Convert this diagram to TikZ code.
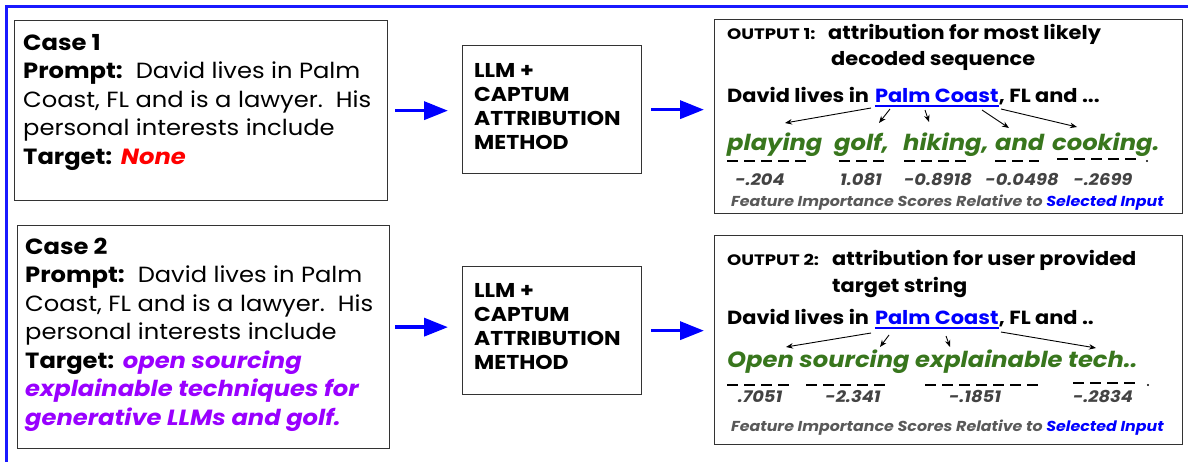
\documentclass[tikz,border=0pt]{standalone}
\usepackage{fontspec}
\setmainfont{Poppins}[FakeStretch=1.1]
\newfontfamily\hdrfont{Poppins}[FakeStretch=1.2]
\usetikzlibrary{positioning,calc,arrows.meta}
\definecolor{frameblue}{RGB}{25,25,255}
\definecolor{tgtred}{RGB}{255,0,0}
\definecolor{tgtpurple}{RGB}{153,0,255}
\definecolor{outgreen}{RGB}{56,118,29}
\definecolor{scoregray}{RGB}{67,67,67}
\definecolor{notegray}{RGB}{89,89,89}
\definecolor{linkblue}{RGB}{0,0,255}
\tikzset{
  box/.style={draw=black!80, line width=1.3pt, inner sep=0pt, anchor=north west},
  casetxt/.style={anchor=base west, inner sep=0pt, font=\fontsize{22}{26}\selectfont},
  llmtxt/.style={anchor=base west, inner sep=0pt, font=\fontsize{20}{24}\selectfont\bfseries},
  headtxt/.style={anchor=base west, inner sep=0pt, font=\fontsize{19}{22}\selectfont\bfseries},
  tagtxt/.style={anchor=base west, inner sep=0pt, font=\hdrfont\fontsize{15.1}{17}\selectfont\bfseries},
  inputtxt/.style={anchor=base west, inner sep=0pt, font=\fontsize{19}{22}\selectfont\bfseries},
  wordtxt/.style={anchor=base west, inner sep=0pt, text=outgreen, font=\fontsize{22}{26}\selectfont\bfseries\itshape},
  scoretxt/.style={anchor=base, inner sep=0pt, text=scoregray, font=\fontsize{16.2}{19}\selectfont\bfseries\itshape},
  notetxt/.style={anchor=base west, inner sep=0pt, text=notegray, font=\fontsize{14.4}{16}\selectfont\bfseries\itshape},
  flow/.style={draw=linkblue, line width=3.5pt, -{Triangle[length=24pt,width=18pt]}},
  attr/.style={draw=black, line width=0.9pt, -{Stealth[length=7pt,width=5.5pt]}},
  dashline/.style={line width=2.4pt, dash pattern=on 11pt off 6pt}
}
\begin{document}
\begin{tikzpicture}[x=1pt, y=-1pt]
  \useasboundingbox (0,0) rectangle (1188,461);
  % outer frame, only top and left edges show
  \draw[frameblue, line width=3pt] (6.5,470) -- (6.5,6) -- (1195,6);

  % input cases
  \node[box, minimum width=373pt, minimum height=180pt] (case1) at (14,20) {};
  \node[box, minimum width=372pt, minimum height=223pt] (case2) at (17,225) {};
  \foreach \c/\x/\y in {1/23/50, 2/25/254}{
    \node[casetxt] (case\c-l1) at (\x,\y) {\bfseries Case \c};
    \node[casetxt] (case\c-l2) at (\x,\y+28.5) {\textbf{Prompt:}\ \ David lives in Palm};
    \node[casetxt] (case\c-l3) at (\x,\y+57) {Coast, FL and is a lawyer.\ \ His};
    \node[casetxt] (case\c-l4) at (\x,\y+85.5) {personal interests include};
  }
  \node[casetxt] (case1-l5) at (23,164) {\textbf{Target:} \textcolor{tgtred}{\bfseries\itshape None}};
  \node[casetxt] (case2-l5) at (25,368) {\textbf{Target:} \textcolor{tgtpurple}{\bfseries\itshape open sourcing}};
  \node[casetxt, text=tgtpurple] (case2-l6) at (25,396.5) {\bfseries\itshape explainable techniques for};
  \node[casetxt, text=tgtpurple] (case2-l7) at (25,425) {\bfseries\itshape generative LLMs and golf.};

  % model boxes
  \node[box, minimum width=179pt, minimum height=128pt] (llm1) at (462,45) {};
  \node[box, minimum width=179pt, minimum height=128pt] (llm2) at (462,266) {};
  \foreach \b/\y in {1/53, 2/273}
    \foreach \t [count=\i] in {LLM +, CAPTUM, ATTRIBUTION, METHOD}
      \node[llmtxt] (llm\b-l\i) at (474,\y+24*\i) {\t};

  % output boxes
  \node[box, minimum width=468pt, minimum height=194pt] (out1) at (714,19) {};
  \node[box, minimum width=468pt, minimum height=209pt] (out2) at (714,235) {};

  % flow arrows
  \draw[flow, shorten <=7pt, shorten >=14pt] (case1.east) -- (case1.east -| llm1.west);
  \draw[flow, shorten <=9pt, shorten >=10pt] (llm1.east) -- (llm1.east -| out1.west);
  \draw[flow, shorten <=5pt, shorten >=14pt] ([yshift=10pt]case2.east) -- ([yshift=10pt]case2.east -| llm2.west);
  \draw[flow, shorten <=9pt, shorten >=10pt] (llm2.east) -- (llm2.east -| out2.west);

  % output 1
  \node[tagtxt] (o1-tag) at (727,39) {OUTPUT 1:};
  \node[headtxt] (o1-h1) at (828,39) {attribution for most likely};
  \node[headtxt] (o1-h2) at (831,65) {decoded sequence};
  \node[inputtxt] (o1-p1) at (727,102) {David lives in};
  \node[inputtxt, text=linkblue, anchor=base west] (o1-pc) at ([xshift=5.5pt]o1-p1.base east) {Palm Coast};
  \node[inputtxt] (o1-p2) at (o1-pc.base east) {, FL and ...};
  \draw[linkblue, line width=1.3pt] ([yshift=-4pt]o1-pc.base west) -- ([yshift=-4pt]o1-pc.base east);
  \node[wordtxt] (o1-w1) at (727,150) {playing};
  \node[wordtxt] (o1-w2) at (834,150) {golf,};
  \node[wordtxt] (o1-w3) at (903,150) {hiking,};
  \node[wordtxt] (o1-w4) at (995,150) {and};
  \node[wordtxt] (o1-w5) at (1052,150) {cooking.};
  \draw[dashline] (727,161) -- (810,161);
  \draw[dashline] (839,161) -- (886,161);
  \draw[dashline] (904,161) -- (970,161);
  \draw[dashline] (995,161) -- (1039,161);
  \draw[dashline] (1057,159) -- (1140,159);
  \fill (1147,161) circle (1.2pt);
  \node[scoretxt] (o1-s1) at (760,185) {-.204};
  \node[scoretxt] (o1-s2) at (861,185) {1.081};
  \node[scoretxt] (o1-s3) at (938,185) {-0.8918};
  \node[scoretxt] (o1-s4) at (1022,185) {-0.0498};
  \node[scoretxt] (o1-s5) at (1103,185) {-.2699};
  \node[notetxt] (o1-note) at (731,206) {Feature Importance Scores Relative to \textcolor{linkblue}{Selected Input}};
  \coordinate (o1-a1s) at (871,108); \coordinate (o1-a1e) at (785,123);
  \coordinate (o1-a2s) at (890,109); \coordinate (o1-a2e) at (879,123);
  \coordinate (o1-a3s) at (925,110); \coordinate (o1-a3e) at (929,122);
  \coordinate (o1-a4s) at (982,110); \coordinate (o1-a4e) at (1009,128);
  \coordinate (o1-a5s) at (1001,109); \coordinate (o1-a5e) at (1077,127);
  \foreach \i in {1,...,5}
    \draw[attr] (o1-a\i s) -- (o1-a\i e);

  % output 2
  \node[tagtxt] (o2-tag) at (727,265) {OUTPUT 2:};
  \node[headtxt] (o2-h1) at (832,265) {attribution for user provided};
  \node[headtxt] (o2-h2) at (832,292) {target string};
  \node[inputtxt] (o2-p1) at (727,324) {David lives in};
  \node[inputtxt, text=linkblue, anchor=base west] (o2-pc) at ([xshift=5.5pt]o2-p1.base east) {Palm Coast};
  \node[inputtxt] (o2-p2) at (o2-pc.base east) {, FL and ..};
  \draw[linkblue, line width=1.3pt] ([yshift=-4pt]o2-pc.base west) -- ([yshift=-4pt]o2-pc.base east);
  \node[wordtxt] (o2-w1) at (727,367) {Open sourcing explainable tech..};
  \draw[dashline] (727,385) -- (792,385);
  \draw[dashline] (806,385) -- (888,385);
  \draw[dashline] (925,385) -- (1042,385);
  \draw[dashline] (1073,383) -- (1140,383);
  \fill (1148,385) circle (1.2pt);
  \node[scoretxt] (o2-s1) at (760,402) {.7051};
  \node[scoretxt] (o2-s2) at (853,402) {-2.341};
  \node[scoretxt] (o2-s3) at (975,402) {-.1851};
  \node[scoretxt] (o2-s4) at (1103,402) {-.2834};
  \node[notetxt] (o2-note) at (731,431) {Feature Importance Scores Relative to \textcolor{linkblue}{Selected Input}};
  \coordinate (o2-a1s) at (871,333); \coordinate (o2-a1e) at (786,347);
  \coordinate (o2-a2s) at (889,335); \coordinate (o2-a2e) at (880,347);
  \coordinate (o2-a3s) at (946,336); \coordinate (o2-a3e) at (950,347);
  \coordinate (o2-a4s) at (1001,332); \coordinate (o2-a4e) at (1096,348);
  \foreach \i in {1,...,4}
    \draw[attr] (o2-a\i s) -- (o2-a\i e);
\end{tikzpicture}
\end{document}
